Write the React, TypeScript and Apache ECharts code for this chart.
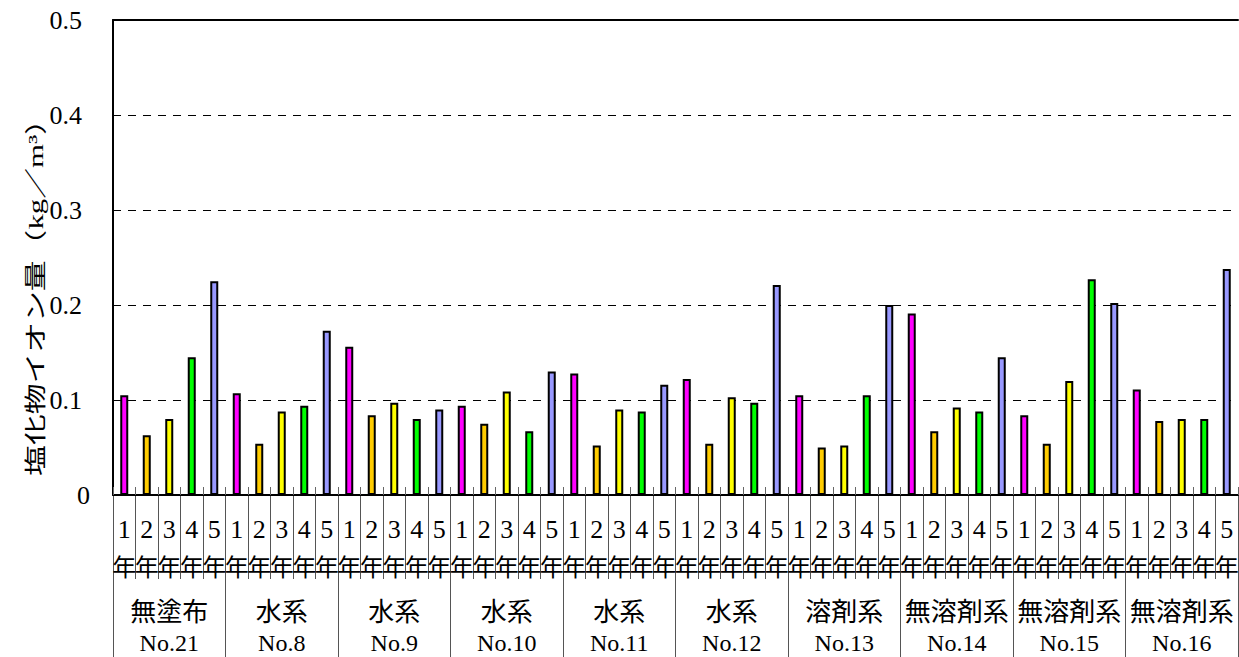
import React, { useEffect, useRef } from "react";
import * as echarts from "echarts";

const groupNames = ["無塗布", "水系", "水系", "水系", "水系", "水系", "溶剤系", "無溶剤系", "無溶剤系", "無溶剤系"];
const groupNos = ["No.21", "No.8", "No.9", "No.10", "No.11", "No.12", "No.13", "No.14", "No.15", "No.16"];
const years = ["1年", "2年", "3年", "4年", "5年"];
const yearColors = ["#FF00FF", "#FFCC00", "#FFFF00", "#00FF00", "#9999FF"];

const year1 = [0.105, 0.107, 0.156, 0.094, 0.128, 0.122, 0.105, 0.191, 0.084, 0.111];
const year2 = [0.063, 0.054, 0.084, 0.075, 0.052, 0.054, 0.050, 0.067, 0.054, 0.078];
const year3 = [0.080, 0.088, 0.097, 0.109, 0.090, 0.103, 0.052, 0.092, 0.120, 0.080];
const year4 = [0.145, 0.094, 0.080, 0.067, 0.088, 0.097, 0.105, 0.088, 0.227, 0.080];
const year5 = [0.225, 0.173, 0.090, 0.130, 0.116, 0.221, 0.200, 0.145, 0.202, 0.238];

const yTicks = ["0", "0.1", "0.2", "0.3", "0.4", "0.5"];
const yTitle = "塩化物イオン量（kg／m³）";

const FONT = "'Liberation Serif', 'Noto Sans CJK JP', serif";

export default function App() {
  const ref = useRef<HTMLDivElement>(null);
  useEffect(() => {
    if (!ref.current) return;
    document.body.style.margin = "0";
    const chart = echarts.init(ref.current, null, { renderer: "svg" });
    const byYear = [year1, year2, year3, year4, year5];
    const cats: string[] = [];
    const barData: any[] = [];
    groupNos.forEach((no, gi) => {
      years.forEach((yr, yi) => {
        cats.push(no + " " + yr);
        barData.push({ value: byYear[yi][gi], itemStyle: { color: yearColors[yi] } });
      });
    });
    const groupCats = groupNames.map((n, i) => n + " " + groupNos[i]);

    chart.setOption({
      animation: false,
      backgroundColor: "#fff",
      grid: { left: 113, top: 20, right: 1, bottom: 162, containLabel: false, outerBoundsMode: "none" },
      xAxis: [
        {
          type: "category",
          data: cats,
          position: "bottom",
          axisLine: { show: true, lineStyle: { color: "#000", width: 2 } },
          axisTick: { show: true, inside: true, length: 8, interval: 0, lineStyle: { color: "#666", width: 1 } },
          axisLabel: {
            interval: 0,
            margin: 18,
            color: "#000",
            fontFamily: FONT,
            fontSize: 26,
            lineHeight: 32,
            formatter: (_v: string, idx: number) => {
              const y = years[idx % 5];
              return y.charAt(0) + "\n{n|" + y.slice(1) + "}";
            },
            rich: {
              n: { fontSize: 24, lineHeight: 46, fontFamily: FONT, color: "#000" },
            },
          },
          splitLine: { show: false },
          z: 5,
        },
        {
          type: "category",
          data: cats,
          position: "bottom",
          axisLine: { show: false },
          axisTick: { show: true, length: 84, interval: 0, lineStyle: { color: "#555", width: 1 } },
          axisLabel: { show: false },
          splitLine: { show: false },
        },
        {
          type: "category",
          data: groupCats,
          position: "bottom",
          axisLine: { show: false },
          axisTick: { show: true, length: 170, interval: 0, lineStyle: { color: "#555", width: 1 } },
          axisLabel: {
            interval: 0,
            margin: 97,
            color: "#000",
            fontFamily: FONT,
            fontSize: 26,
            formatter: (_v: string, idx: number) =>
              "{a|" + groupNames[idx] + "}\n{b|" + groupNos[idx] + "}",
            rich: {
              a: { fontSize: 26, lineHeight: 40, fontFamily: FONT, color: "#000" },
              b: { fontSize: 24, lineHeight: 22, fontFamily: FONT, color: "#000" },
            },
          },
          splitLine: { show: false },
        },
        {
          type: "category",
          data: cats,
          position: "top",
          axisLine: { show: true, lineStyle: { color: "#000", width: 2 } },
          axisTick: { show: false },
          axisLabel: { show: false },
          splitLine: { show: false },
        },
      ],
      yAxis: {
        type: "value",
        min: 0,
        max: 0.5,
        interval: 0.1,
        axisLine: { show: true, lineStyle: { color: "#000", width: 2 } },
        axisTick: { show: false },
        splitLine: { show: true, lineStyle: { color: "#000", width: 1, type: [8, 7] } },
        axisLabel: {
          margin: 23,
          color: "#000",
          fontFamily: FONT,
          fontSize: 26,
          formatter: (v: number) => {
            const t = yTicks[Math.round(v * 10)];
            return t === "0" ? t : "{p|" + t + "}";
          },
          rich: {
            p: { padding: [0, 8, 0, 0], fontSize: 26, fontFamily: FONT, color: "#000" },
          },
        },
      },
      series: [
        {
          type: "bar",
          xAxisIndex: 0,
          data: barData,
          barWidth: 8,
          itemStyle: { borderColor: "#000", borderWidth: 2 },
          z: 3,
        },
      ],
      graphic: [
        {
          type: "text",
          x: 36,
          y: 290,
          rotation: Math.PI / 2,
          scaleX: 1.4,
          style: {
            text: yTitle,
            fontFamily: FONT,
            fontSize: 22,
            fill: "#000",
            align: "center",
            verticalAlign: "middle",
          },
        },
      ],
    });
    return () => chart.dispose();
  }, []);
  return (
    <div
      ref={ref}
      style={{ position: "fixed", left: 0, top: 0, width: 1239, height: 657, overflow: "hidden" }}
    />
  );
}
